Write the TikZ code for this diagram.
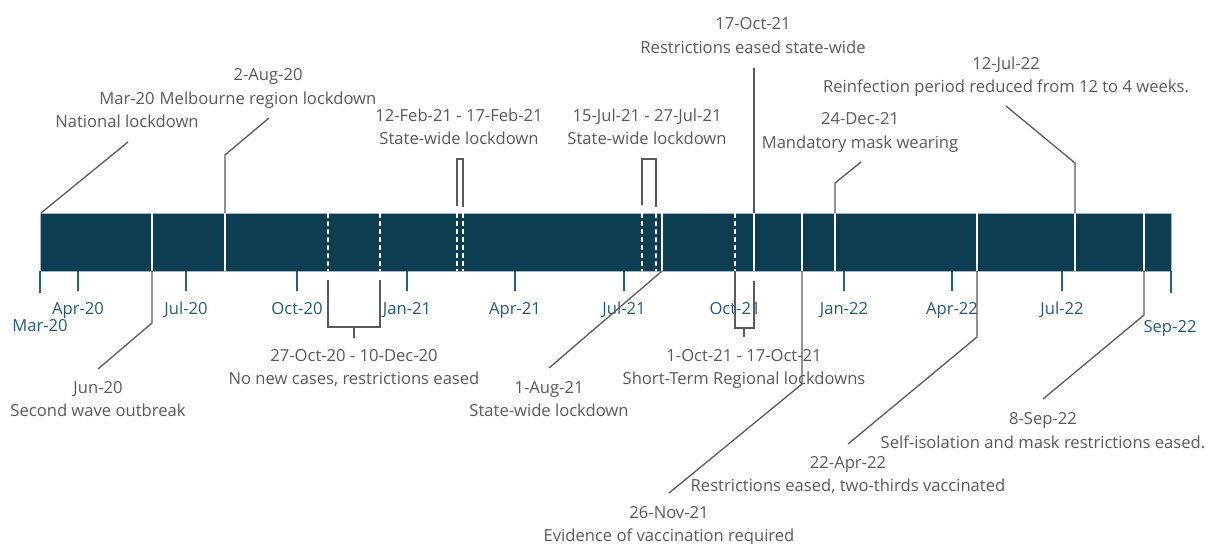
\documentclass[tikz,border=0pt]{standalone}
\usepackage{fontspec}
\setmainfont{Open Sans}
\definecolor{barfill}{RGB}{12,61,81}
\definecolor{barborder}{RGB}{160,182,195}
\definecolor{tickblue}{RGB}{42,96,122}
\definecolor{axisblue}{RGB}{38,90,115}
\definecolor{labelgray}{RGB}{89,89,89}
\definecolor{conngray}{RGB}{90,90,90}
\begin{document}
\begin{tikzpicture}[x=1pt,y=-1pt,
  lbl/.style={text=labelgray, font=\fontsize{16.6}{19}\selectfont, anchor=base, inner sep=0pt},
  axl/.style={text=axisblue, font=\fontsize{16.6}{19}\selectfont, anchor=base, inner sep=0pt},
  conn/.style={draw=conngray, line width=1.3pt},
  divline/.style={draw=white, line width=1.3pt},
  dashdiv/.style={divline, dash pattern=on 5pt off 3pt},
  tickline/.style={draw=tickblue, line width=1.3pt}]
\useasboundingbox (0,0) rectangle (1214,543);

% ---------- bar ----------
\node[draw=barborder, fill=barfill, line width=1pt, minimum width=1131pt, minimum height=58pt, inner sep=0pt, anchor=north west] (bar) at (40,213) {};

% event points on top (t) and bottom (b) of bar
\foreach \n/\x in {mar/41, jun/152, aug/225, oct27/328, dec10/380, feb12/457, feb17/463, jul15/642, jul27/656, aug1/662, oct1/735, oct17/754, nov26/802, dec24/835, apr22/977, jul12/1075, sep8/1144}{
  \coordinate (\n t) at (\x,213);
  \coordinate (\n b) at (\x,271);
}

% dividers
\foreach \n in {jun, aug, aug1, oct17, nov26, dec24, apr22, jul12, sep8}
  \draw[divline] (\n t) -- (\n b);
\foreach \n in {oct27, dec10, feb12, feb17, jul15, jul27, oct1}
  \draw[dashdiv] (\n t) -- (\n b);

% ---------- axis ticks and labels ----------
\foreach \n/\x/\len in {tmar20/40/22, tapr20/78/20, tjul20/186/20, toct20/297/20, tjan21/407/20, tapr21/515/20, tjul21/624/20, toct21/735/20, tjan22/844/20, tapr22/952/20, tjul22/1062/20, tsep22/1171/22}{
  \coordinate (\n a) at (\x,271);
  \coordinate (\n z) at (\x,271+\len);
  \draw[tickline] (\n a) -- (\n z);
}
\node[axl] (xmar20) at (40,331) {Mar-20};
\node[axl] (xapr20) at (78,314) {Apr-20};
\node[axl] (xjul20) at (186,314) {Jul-20};
\node[axl] (xoct20) at (297,314) {Oct-20};
\node[axl] (xjan21) at (407,314) {Jan-21};
\node[axl] (xapr21) at (515,314) {Apr-21};
\node[axl] (xjul21) at (624,314) {Jul-21};
\node[axl] (xoct21) at (735,314) {Oct-21};
\node[axl] (xjan22) at (844,314) {Jan-22};
\node[axl] (xapr22) at (952,314) {Apr-22};
\node[axl] (xjul22) at (1062,314) {Jul-22};
\node[axl] (xsep22) at (1170,332) {Sep-22};

% ---------- labels above ----------
\node[lbl] (l1a) at (127,104) {Mar-20};
\node[lbl] (l1b) at (127,127) {National lockdown};
\node[lbl] (l2a) at (268,80) {2-Aug-20};
\node[lbl] (l2b) at (268,104) {Melbourne region lockdown};
\node[lbl] (l3a) at (459,121) {12-Feb-21 - 17-Feb-21};
\node[lbl] (l3b) at (459,144) {State-wide lockdown};
\node[lbl] (l4a) at (647,121) {15-Jul-21 - 27-Jul-21};
\node[lbl] (l4b) at (647,144) {State-wide lockdown};
\node[lbl] (l5a) at (753,30) {17-Oct-21};
\node[lbl] (l5b) at (753,53) {Restrictions eased state-wide};
\node[lbl] (l6a) at (1006,69) {12-Jul-22};
\node[lbl] (l6b) at (1006,92) {Reinfection period reduced from 12 to 4 weeks.};
\node[lbl] (l7a) at (860,124) {24-Dec-21};
\node[lbl] (l7b) at (860,148) {Mandatory mask wearing};

% ---------- labels below ----------
\node[lbl] (l8a) at (98,393) {Jun-20};
\node[lbl] (l8b) at (98,416) {Second wave outbreak};
\node[lbl] (l9a) at (354,361) {27-Oct-20 - 10-Dec-20};
\node[lbl] (l9b) at (354,384) {No new cases, restrictions eased};
\node[lbl] (l10a) at (549,393) {1-Aug-21};
\node[lbl] (l10b) at (549,416) {State-wide lockdown};
\node[lbl] (l11a) at (744,361) {1-Oct-21 - 17-Oct-21};
\node[lbl] (l11b) at (744,384) {Short-Term Regional lockdowns};
\node[lbl] (l12a) at (669,518) {26-Nov-21};
\node[lbl] (l12b) at (669,541) {Evidence of vaccination required};
\node[lbl] (l13a) at (848,468) {22-Apr-22};
\node[lbl] (l13b) at (848,491) {Restrictions eased, two-thirds vaccinated};
\node[lbl] (l14a) at (1043,424) {8-Sep-22};
\node[lbl] (l14b) at (1043,448) {Self-isolation and mask restrictions eased.};

% ---------- connector bends / ends ----------
\coordinate (c1e) at (128,142);
\coordinate (c2m) at (225,155);  \coordinate (c2e) at (269,118);
\coordinate (c3l) at (457,206);  \coordinate (c3a) at (457,159); \coordinate (c3b) at (463,159); \coordinate (c3r) at (463,207);
\coordinate (c4l) at (642,205);  \coordinate (c4a) at (642,159); \coordinate (c4b) at (656,159); \coordinate (c4r) at (656,207);
\coordinate (c5e) at (754,68);
\coordinate (c7m) at (835,183);  \coordinate (c7e) at (861,162);
\coordinate (c6m) at (1075,163); \coordinate (c6e) at (1006,106);
\coordinate (c8m) at (152,323);  \coordinate (c8e) at (98,369);
\coordinate (c9l) at (328,280);  \coordinate (c9a) at (328,327); \coordinate (c9b) at (380,327); \coordinate (c9r) at (380,280);
\coordinate (c9s) at (354,327);  \coordinate (c9e) at (354,338);
\coordinate (c10e) at (549,368);
\coordinate (c11a) at (735,328); \coordinate (c11b) at (754,328); \coordinate (c11r) at (754,281);
\coordinate (c11s) at (744,328); \coordinate (c11e) at (744,337);
\coordinate (c12m) at (802,384); \coordinate (c12e) at (669,493);
\coordinate (c13m) at (977,337); \coordinate (c13e) at (848,444);
\coordinate (c14m) at (1144,315);\coordinate (c14e) at (1043,399);

% ---------- connectors ----------
\draw[conn] (mart) -- (c1e);
\draw[conn] (augt) -- (c2m) -- (c2e);
\draw[conn] (c3l) -- (c3a) -- (c3b) -- (c3r);
\draw[conn] (c4l) -- (c4a) -- (c4b) -- (c4r);
\draw[conn] (oct17t) -- (c5e);
\draw[conn] (dec24t) -- (c7m) -- (c7e);
\draw[conn] (jul12t) -- (c6m) -- (c6e);
\draw[conn] (junb) -- (c8m) -- (c8e);
\draw[conn] (c9l) -- (c9a) -- (c9b) -- (c9r);
\draw[conn] (c9s) -- (c9e);
\draw[conn] (aug1b) -- (c10e);
\draw[conn] (oct1b) -- (c11a) -- (c11b) -- (c11r);
\draw[conn] (c11s) -- (c11e);
\draw[conn] (nov26b) -- (c12m) -- (c12e);
\draw[conn] (apr22b) -- (c13m) -- (c13e);
\draw[conn] (sep8b) -- (c14m) -- (c14e);
\end{tikzpicture}
\end{document}
